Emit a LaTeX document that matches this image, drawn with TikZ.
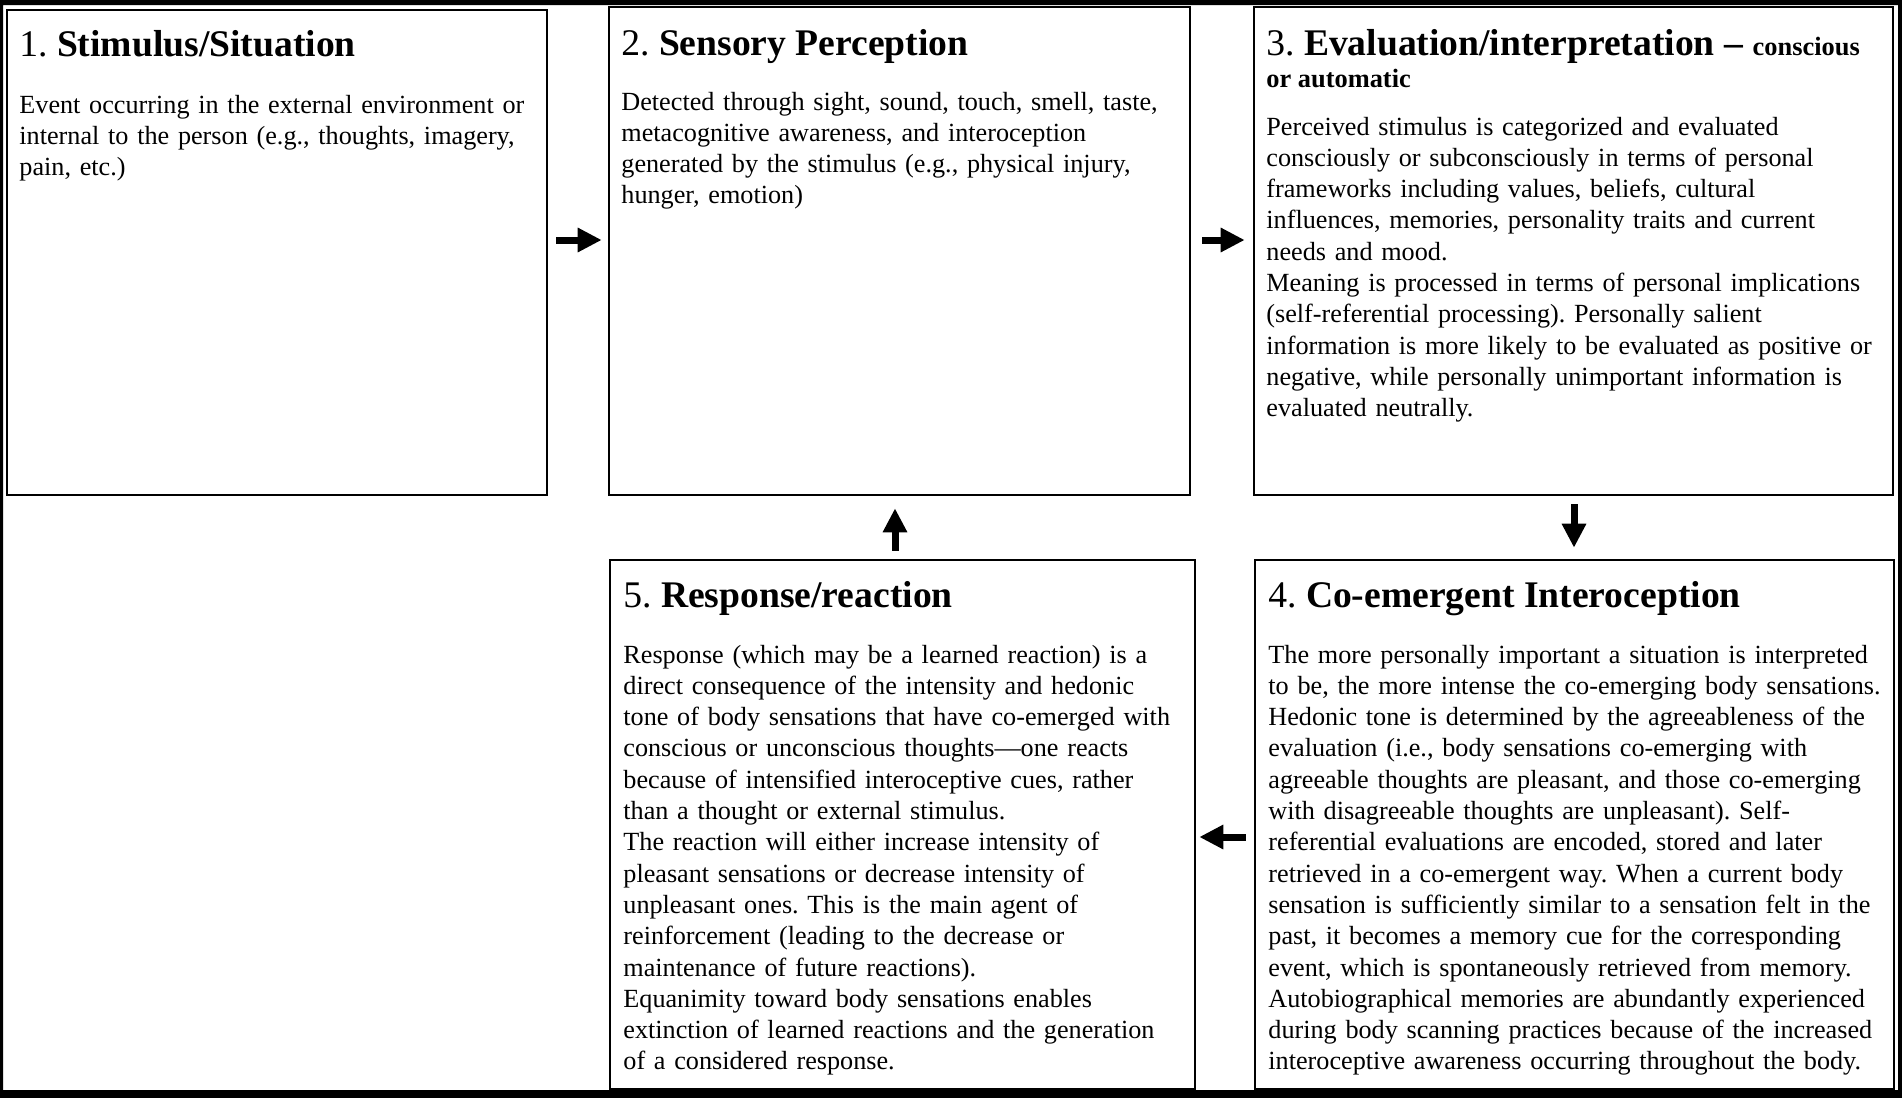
\documentclass[tikz,border=0pt]{standalone}
\usepackage{fontspec}
\setmainfont{Liberation Serif}
\frenchspacing
\hyphenpenalty=10000
\exhyphenpenalty=10000
\usetikzlibrary{arrows.meta,fit}
\begin{document}
\begin{tikzpicture}[x=0.5pt,y=-0.5pt,
  box/.style={draw=black, line width=1.3pt, inner sep=0pt},
  ttl/.style={anchor=base west, inner sep=0pt, font=\fontsize{18.8}{22}\selectfont},
  sub/.style={anchor=base west, inner sep=0pt, font=\fontsize{13.2}{16}\selectfont\bfseries},
  body/.style={anchor=base west, inner sep=0pt, align=left, text width=#1, font=\fontsize{13.1}{15.65}\selectfont},
  bigarrow/.style={line width=3.5pt, -{Triangle[length=12pt,width=11.5pt]}}
]
\useasboundingbox (0,0) rectangle (1902,1098);
\fill[black, even odd rule] (0,0) rectangle (1902,1098) (3,5) rectangle (1898,1090);

% boxes
\node[box, fit={(7,10) (547,495)}] (b1) {};
\node[box, fit={(609,7) (1190,495)}] (b2) {};
\node[box, fit={(1254,7) (1893,495)}] (b3) {};
\node[box, fit={(1255,560) (1894,1089)}] (b4) {};
\node[box, fit={(610,560) (1195,1089)}] (b5) {};

% box 1
\node[ttl] (t1) at (19,56) {1. \textbf{Stimulus/Situation}};
\node[body=275pt] (d1) at (19,113) {Event occurring in the external environment or\\
internal to the person (e.g., thoughts, imagery,\\
pain, etc.)};

% box 2
\node[ttl] (t2) at (621,55) {2. \textbf{Sensory Perception}};
\node[body=300pt] (d2) at (621,110) {Detected through sight, sound, touch, smell, taste,\\
metacognitive awareness, and interoception\\
generated by the stimulus (e.g., physical injury,\\
hunger, emotion)};

% box 3
\node[ttl] (t3) at (1266,55) {3. \textbf{Evaluation/interpretation} \textbf{–} {\fontsize{13.2}{16}\selectfont\bfseries conscious}};
\node[sub] (t3b) at (1266,87) {or automatic};
\node[body=340pt] (d3) at (1266,135) {Perceived stimulus is categorized and evaluated\\
consciously or subconsciously in terms of personal\\
frameworks including values, beliefs, cultural\\
influences, memories, personality traits and current\\
needs and mood.\\
Meaning is processed in terms of personal implications\\
(self-referential processing). Personally salient\\
information is more likely to be evaluated as positive or\\
negative, while personally unimportant information is\\
evaluated neutrally.};

% box 4
\node[ttl] (t4) at (1268,607) {4. \textbf{Co-emergent Interoception}};
\node[body=340pt] (d4) at (1268,663) {The more personally important a situation is interpreted\\
to be, the more intense the co-emerging body sensations.\\
Hedonic tone is determined by the agreeableness of the\\
evaluation (i.e., body sensations co-emerging with\\
agreeable thoughts are pleasant, and those co-emerging\\
with disagreeable thoughts are unpleasant). Self-\\
referential evaluations are encoded, stored and later\\
retrieved in a co-emergent way. When a current body\\
sensation is sufficiently similar to a sensation felt in the\\
past, it becomes a memory cue for the corresponding\\
event, which is spontaneously retrieved from memory.\\
Autobiographical memories are abundantly experienced\\
during body scanning practices because of the increased\\
interoceptive awareness occurring throughout the body.};

% box 5
\node[ttl] (t5) at (623,607) {5. \textbf{Response/reaction}};
\node[body=300pt] (d5) at (623,663) {Response (which may be a learned reaction) is a\\
direct consequence of the intensity and hedonic\\
tone of body sensations that have co-emerged with\\
conscious or unconscious thoughts—one reacts\\
because of intensified interoceptive cues, rather\\
than a thought or external stimulus.\\
The reaction will either increase intensity of\\
pleasant sensations or decrease intensity of\\
unpleasant ones. This is the main agent of\\
reinforcement (leading to the decrease or\\
maintenance of future reactions).\\
Equanimity toward body sensations enables\\
extinction of learned reactions and the generation\\
of a considered response.};

% arrow rows/columns
\coordinate (r1) at (0,240);
\coordinate (r2) at (0,837);
\coordinate (c34) at (1574,0);
\coordinate (c52) at (895,0);

\draw[bigarrow, shorten <=4pt, shorten >=3pt] (b1.east |- r1) -- (b2.west |- r1);
\draw[bigarrow, shorten <=5.5pt, shorten >=4pt] (b2.east |- r1) -- (b3.west |- r1);
\draw[bigarrow, shorten <=4pt, shorten >=5.5pt] (b3.south -| c34) -- (b4.north -| c34);
\draw[bigarrow, shorten <=4pt, shorten >=1.5pt] (b4.west |- r2) -- (b5.east |- r2);
\draw[bigarrow, shorten <=4pt, shorten >=6pt] (b5.north -| c52) -- (b2.south -| c52);
\end{tikzpicture}
\end{document}
